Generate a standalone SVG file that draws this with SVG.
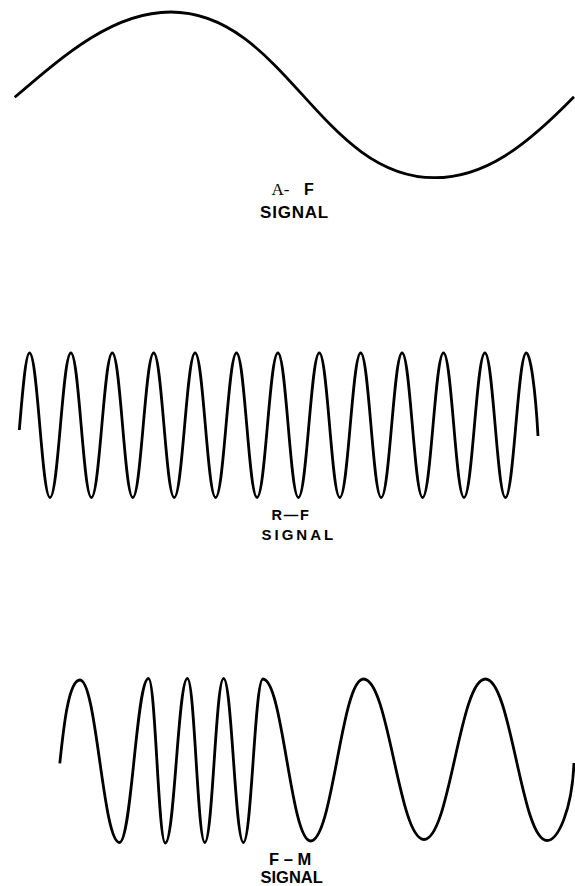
<svg xmlns="http://www.w3.org/2000/svg" width="575" height="886" viewBox="0 0 575 886">
<style>
.wave{fill:none;stroke:#000;stroke-width:2.8;stroke-linejoin:round}
.lbl{font-family:"Liberation Sans",Arial,sans-serif;font-weight:bold;fill:#000}
.ser{font-family:"Liberation Serif","Times New Roman",serif;fill:#000}
</style>
<rect width="575" height="886" fill="#fff"/>
<g id="af-signal">
<path class="wave" d="M14.7,97.3 C65.5,53.6 114.1,12 170.5,12 C284,12 321,177.7 434.5,177.7 C485,177.7 526,146 574,96.7"/>
<text class="ser" x="271.5" y="195" font-size="17">A-</text>
<text class="lbl" x="304" y="195" font-size="16">F</text>
<text class="lbl" x="260" y="217.7" font-size="17" letter-spacing="0.8">SIGNAL</text>
</g>
<g id="rf-signal">
<path class="wave" d="M19.3,430 C22.6,390.6 25.8,353 29.5,353 c8.2,0 12.3,144.5 20.5,144.5 c8.36,0 12.54,-144.5 20.9,-144.5 c8.2,0 12.3,144.5 20.5,144.5 c8.36,0 12.54,-144.5 20.9,-144.5 c8.2,0 12.3,144.5 20.5,144.5 c8.36,0 12.54,-144.5 20.9,-144.5 c8.2,0 12.3,144.5 20.5,144.5 c8.36,0 12.54,-144.5 20.9,-144.5 c8.2,0 12.3,144.5 20.5,144.5 c8.36,0 12.54,-144.5 20.9,-144.5 c8.2,0 12.3,144.5 20.5,144.5 c8.36,0 12.54,-144.5 20.9,-144.5 c8.2,0 12.3,144.5 20.5,144.5 c8.36,0 12.54,-144.5 20.9,-144.5 c8.2,0 12.3,144.5 20.5,144.5 c8.36,0 12.54,-144.5 20.9,-144.5 c8.2,0 12.3,144.5 20.5,144.5 c8.36,0 12.54,-144.5 20.9,-144.5 c8.2,0 12.3,144.5 20.5,144.5 c8.36,0 12.54,-144.5 20.9,-144.5 c8.2,0 12.3,144.5 20.5,144.5 c8.36,0 12.54,-144.5 20.9,-144.5 c8.2,0 12.3,144.5 20.5,144.5 c8.36,0 12.54,-144.5 20.9,-144.5 C530.5,353 535.5,390 538,436"/>
<text class="lbl" x="271.5" y="520" font-size="14.5" letter-spacing="1.8">R—F</text>
<text class="lbl" x="261.5" y="540" font-size="15" letter-spacing="3">SIGNAL</text>
</g>
<g id="fm-signal">
<path class="wave" d="M59.8,763.3 C63.5,728 68.5,680 80,680 C96.6,680 102.9,842.5 119.5,842.5 C131.7,842.5 136.3,678.5 148.5,678.5 C155.6,678.5 158.2,843 165.3,843 C174.6,843 178.1,678.5 187.4,678.5 C194.7,678.5 197.5,842.5 204.8,842.5 C212.7,842.5 215.7,678.5 223.6,678.5 C231.9,678.5 235.1,842.5 243.4,842.5 C251.6,842.5 254.7,679 262.9,679 C282.9,679 290.6,841 310.6,841 C332.8,841 341.3,679 363.5,679 C388.9,679 398.6,839.5 424,839.5 C449.8,839.5 459.6,679 485.4,679 C511.3,679 521.1,840.5 547,840.5 C558,840.5 572,810 574,763"/>
<text class="lbl" x="269" y="865" font-size="16.5">F – M</text>
<text class="lbl" x="260.5" y="882.7" font-size="16.5">SIGNAL</text>
</g>
</svg>
